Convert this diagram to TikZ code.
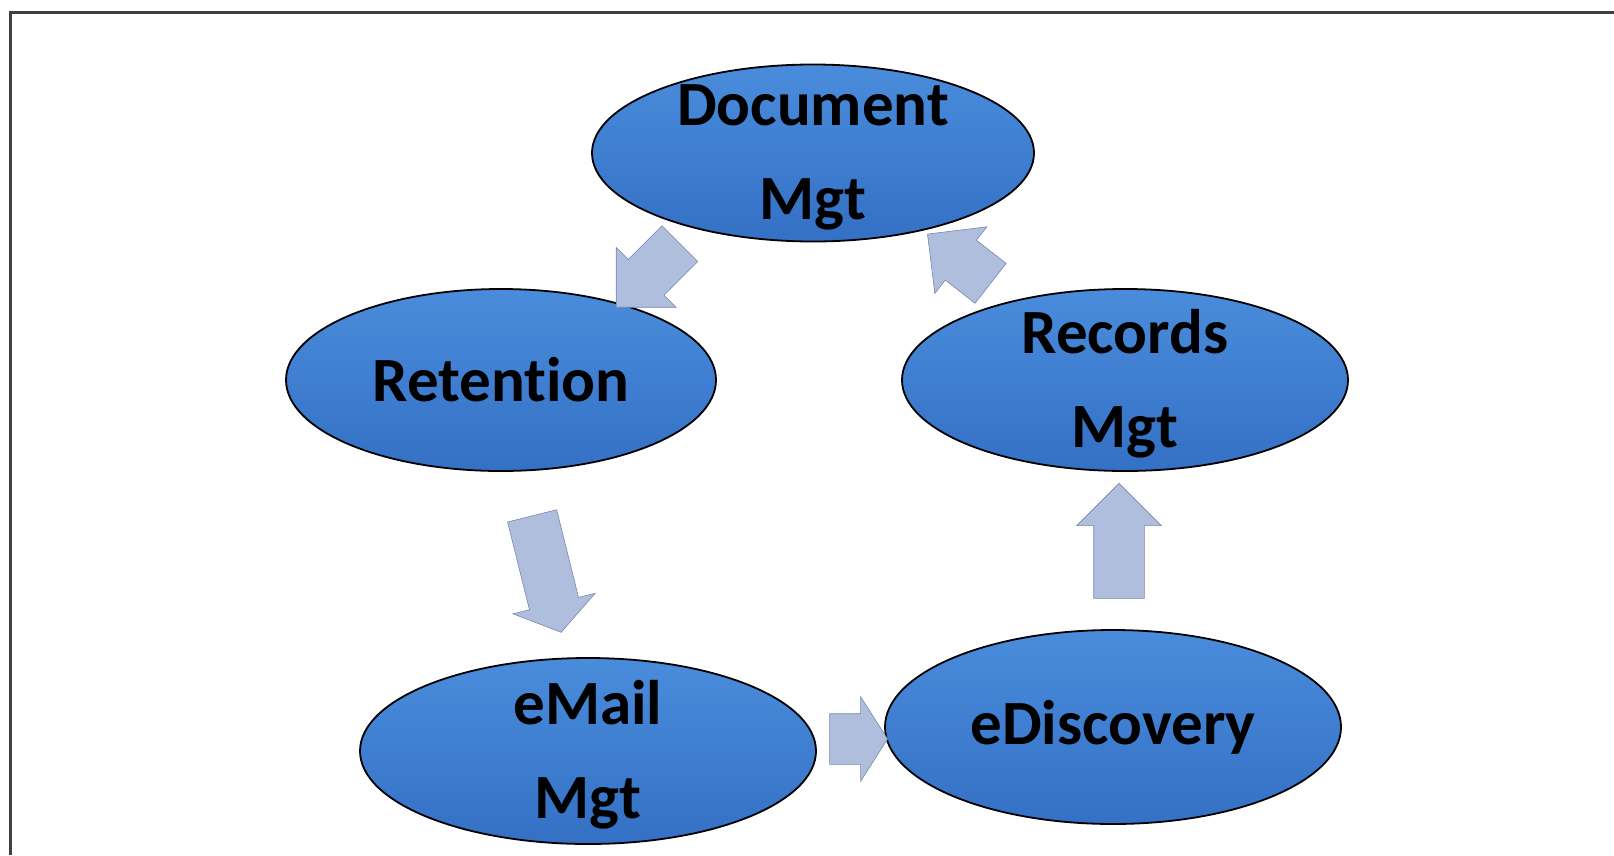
\documentclass[tikz,border=0pt]{standalone}
\usepackage{fontspec}
\setmainfont{Carlito}[Ligatures=NoCommon]
\usepackage{xcolor}
\usepackage{tikz}
\usetikzlibrary{shapes.geometric, shapes.arrows, calc}
\definecolor{blobtop}{RGB}{74,140,220}
\definecolor{blobbottom}{RGB}{52,112,196}
\definecolor{flowfill}{RGB}{176,190,222}
\definecolor{flowline}{RGB}{120,134,170}
\tikzstyle{blob} = [ellipse, draw=black, line width=1.8pt, top color=blobtop, bottom color=blobbottom, inner sep=0pt]
\tikzstyle{blobtext} = [align=center, inner sep=0pt, font=\fontsize{63}{94}\selectfont\bfseries]
\tikzstyle{blobtext2} = [blobtext, yshift=-4pt]
\tikzstyle{flow} = [single arrow, draw=flowline, fill=flowfill, line width=0.6pt, inner xsep=0pt, inner ysep=25pt, single arrow head extend=17pt, single arrow head indent=0pt]

\newcommand{\flowarrow}[5][]{%
  \node[flow, #1, rotate=#4, minimum height=#5] (#2-#3) at ($(#2)!0.5!(#3)$) {};}

\begin{document}
\begin{tikzpicture}[x=1pt, y=-1pt]
\useasboundingbox (0,0) rectangle (1614,855);

% frame: only top and left edges show
\draw[line width=3pt, color=black!75] (10,855) -- (10,12) -- (1614,12);

\node[blob, minimum width=442pt, minimum height=177pt] (docmgt) at (813,153) {};
\node[blob, minimum width=430pt, minimum height=182pt] (retention) at (501,380) {};
\node[blob, minimum width=446pt, minimum height=182pt] (recmgt) at (1125,380) {};
\node[blob, minimum width=456pt, minimum height=186pt] (emailmgt) at (588,751) {};
\node[blob, minimum width=456pt, minimum height=194pt] (ediscovery) at (1113,727) {};

\node[blobtext2] (docmgt-t) at (docmgt) {Document\\Mgt};
\node[blobtext] (retention-t) at (retention) {Retention};
\node[blobtext2] (recmgt-t) at (recmgt) {Records\\Mgt};
\node[blobtext2] (emailmgt-t) at (emailmgt) {eMail\\Mgt};
\node[blobtext] (ediscovery-t) at (ediscovery) {eDiscovery};

% block arrows between the ellipses
\flowarrow{docmgt}{retention}{225}{90pt}
\flowarrow[single arrow tip angle=110]{retention}{emailmgt}{284}{120pt}
\flowarrow[single arrow tip angle=115]{emailmgt}{ediscovery}{0}{58pt}
\flowarrow{ediscovery}{recmgt}{90}{115pt}
\flowarrow{recmgt}{docmgt}{142}{80pt}

\end{tikzpicture}
\end{document}
